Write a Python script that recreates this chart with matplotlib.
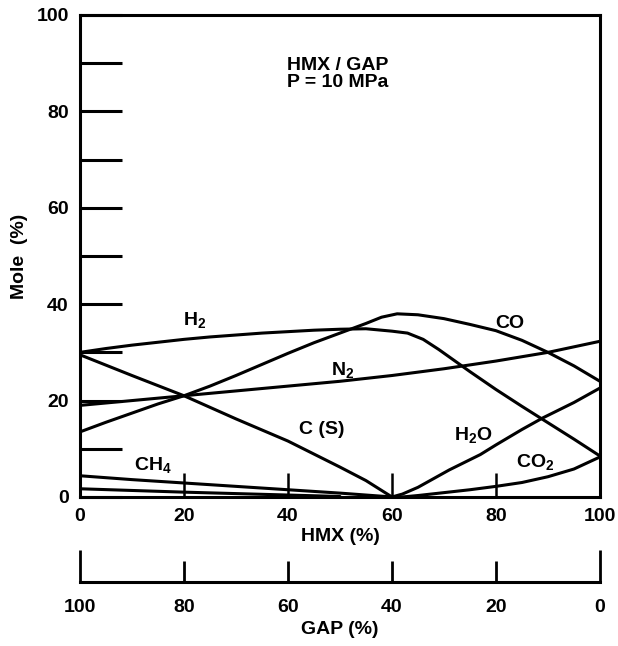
import matplotlib.pyplot as plt

plt.rcParams['font.family'] = ['Liberation Sans', 'DejaVu Sans']
plt.rcParams['font.weight'] = 'bold'
plt.rcParams['axes.labelweight'] = 'bold'
plt.rcParams['mathtext.fontset'] = 'custom'
plt.rcParams['mathtext.rm'] = 'Liberation Sans:bold'
plt.rcParams['mathtext.default'] = 'rm'

# mole fractions, HMX (%) on x
h2_x = [0, 5, 10, 15, 20, 25, 30, 35, 40, 45, 50, 55, 60, 63, 66, 69, 72, 75, 80, 85, 90, 95, 100]
h2_y = [30, 30.8, 31.5, 32.1, 32.7, 33.2, 33.6, 34, 34.3, 34.6, 34.8, 34.9, 34.4, 34, 32.7, 30.6, 28.3, 26, 22.3, 18.8, 15.4, 12, 8.5]

co_x = [0, 5, 10, 15, 20, 25, 30, 35, 40, 45, 50, 55, 58, 61, 65, 70, 75, 80, 85, 90, 95, 100]
co_y = [13.5, 15.5, 17.4, 19.3, 21, 23, 25.2, 27.5, 29.8, 32, 34, 36, 37.3, 38, 37.8, 37, 35.8, 34.5, 32.5, 30, 27.2, 24]

n2_x = [0, 10, 20, 30, 40, 50, 60, 70, 80, 90, 100]
n2_y = [19, 20, 21, 22, 23, 24, 25.2, 26.6, 28.2, 30, 32.3]

cs_x = [0, 10, 20, 30, 40, 50, 55, 60]
cs_y = [29.5, 25.2, 21, 16.2, 11.6, 6.2, 3.4, 0]

h2o_x = [60, 62, 65, 68, 71, 74, 77, 80, 85, 89, 95, 100]
h2o_y = [0, 0.6, 2, 3.8, 5.6, 7.2, 8.8, 10.8, 14, 16.4, 19.6, 22.6]

co2_x = [62, 65, 70, 75, 80, 85, 90, 95, 100]
co2_y = [0, 0.3, 0.9, 1.5, 2.2, 3, 4.2, 5.8, 8.3]

ch4_x = [0, 10, 20, 30, 40, 50, 60]
ch4_y = [4.4, 3.6, 2.9, 2.2, 1.5, 0.8, 0]

minor_x = [0, 20, 40, 50]
minor_y = [1.7, 1.0, 0.4, 0.1]

fig = plt.figure(figsize=(6.18, 6.46), dpi=100)
ax = fig.add_axes([0.1294, 0.2307, 0.8414, 0.7461])

for xs, ys in [(h2_x, h2_y), (co_x, co_y), (n2_x, n2_y), (cs_x, cs_y),
               (h2o_x, h2o_y), (co2_x, co2_y), (ch4_x, ch4_y), (minor_x, minor_y)]:
    ax.plot(xs, ys, color='black', lw=2.2, solid_capstyle='round')

ax.set_xlim(0, 100)
ax.set_ylim(0, 100)
for s in ax.spines.values():
    s.set_linewidth(2.2)

ax.set_yticks(range(0, 101, 20))
ax.set_yticks(range(10, 100, 20), minor=True)
ax.tick_params(axis='y', which='both', direction='in', length=30, width=2.2,
               labelsize=14, pad=8)
ax.set_xticks(range(0, 101, 20))
ax.tick_params(axis='x', direction='in', length=17, width=1.8, labelsize=14, pad=8)
ax.xaxis.get_major_ticks()[0].tick1line.set_markersize(0)
ax.xaxis.get_major_ticks()[-1].tick1line.set_markersize(0)
ax.set_xlabel('HMX (%)', fontsize=14, labelpad=2)
ax.set_ylabel('Mole  (%)', fontsize=14, labelpad=6)

ax.text(49.6, 89.6, 'HMX / GAP', ha='center', va='center', fontsize=14)
ax.text(49.6, 86.0, 'P = 10 MPa', ha='center', va='center', fontsize=14)

labels = [(22, 36.7, r'H$_2$'), (50.6, 26.3, r'N$_2$'), (46.5, 13.9, 'C (S)'),
          (14, 6.6, r'CH$_4$'), (82.7, 36.0, 'CO'), (75.6, 12.9, r'H$_2$O'),
          (87.5, 7.3, r'CO$_2$')]
for lx, ly, t in labels:
    ax.text(lx, ly, t, ha='center', va='center', fontsize=14)

# GAP scale underneath
ax2 = fig.add_axes([0.1294, 0.099, 0.8414, 0.001])
for k in ['left', 'right', 'top']:
    ax2.spines[k].set_visible(False)
ax2.spines['bottom'].set_linewidth(2.2)
ax2.set_yticks([])
ax2.set_xlim(100, 0)
ax2.set_xticks(range(0, 101, 20))
ax2.tick_params(axis='x', direction='in', length=15, width=2, labelsize=14, pad=12)
ax2.xaxis.get_major_ticks()[0].tick1line.set_markersize(23)
ax2.xaxis.get_major_ticks()[-1].tick1line.set_markersize(23)
ax2.set_xlabel('GAP (%)', fontsize=14, labelpad=4)

plt.savefig('out.png', dpi=100)
